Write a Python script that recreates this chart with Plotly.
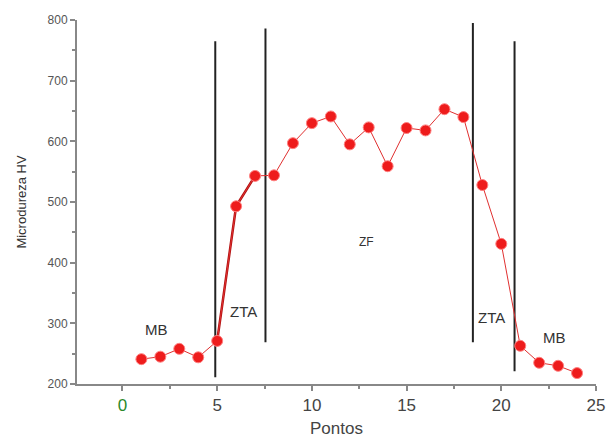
import plotly.graph_objects as go

# Data
pontos = list(range(1, 25))
microdureza = [241, 245, 258, 244, 271, 493, 543, 544, 597, 630, 641, 595,
               623, 559, 622, 618, 653, 640, 528, 431, 263, 235, 230, 218]

# Zone boundary lines (x, y_start, y_end)
linhas_x = [4.9, 7.55, 18.5, 20.7]
linhas_y0 = [211, 269, 269, 221]
linhas_y1 = [765, 786, 795, 765]

# Zone labels
rotulos = ["MB", "ZTA", "ZF", "ZTA", "MB"]
rotulos_x = [1.8, 6.4, 12.9, 19.5, 22.8]
rotulos_y = [290, 319, 434, 309, 277]

x_ticks = [0, 5, 10, 15, 20, 25]
y_ticks = [200, 300, 400, 500, 600, 700, 800]

fig = go.Figure()

for x, y0, y1 in zip(linhas_x, linhas_y0, linhas_y1):
    fig.add_trace(go.Scatter(x=[x, x], y=[y0, y1], mode="lines",
                             line=dict(color="#222222", width=2),
                             showlegend=False, hoverinfo="skip"))

# hand-drawn darker segment
fig.add_trace(go.Scatter(x=pontos[4:7], y=microdureza[4:7], mode="lines",
                         line=dict(color="#b01010", width=2.5),
                         showlegend=False, hoverinfo="skip"))

fig.add_trace(go.Scatter(x=pontos, y=microdureza, mode="lines+markers",
                         line=dict(color="#e03030", width=1),
                         marker=dict(color="#ee1c1c", size=11,
                                     line=dict(color="#ff8080", width=1)),
                         showlegend=False))

for t, x, y in zip(rotulos, rotulos_x, rotulos_y):
    fig.add_annotation(x=x, y=y, text=t, showarrow=False,
                       font=dict(family="Arial, Liberation Sans", size=15 if t != "ZF" else 12,
                                 color="#333333"))

ticktext = ["<span style='color:#2a8a2a'>0</span>"] + [str(v) for v in x_ticks[1:]]

fig.update_layout(
    width=606, height=439,
    margin=dict(l=77, r=10, t=20, b=55),
    plot_bgcolor="white", paper_bgcolor="white",
    font=dict(family="Arial, Liberation Sans", color="#444444"),
    xaxis=dict(range=[-2.4, 25], tickvals=x_ticks, ticktext=ticktext,
               automargin=False,
               showgrid=False, zeroline=False, showline=True,
               linecolor="#888888", linewidth=2, ticks="outside",
               tickcolor="#888888", ticklen=5, tickwidth=1.5,
               tickfont=dict(size=17, color="#444444"),
               minor=dict(tickvals=[2.5, 7.5, 12.5, 17.5, 22.5], ticks="outside",
                          ticklen=3, tickcolor="#888888"),
               title=dict(text="Pontos", font=dict(size=17, color="#444444"),
                          standoff=8)),
    yaxis=dict(range=[200, 800], tickvals=y_ticks,
               automargin=False,
               showgrid=False, zeroline=False, showline=True,
               linecolor="#888888", linewidth=2, ticks="outside",
               tickcolor="#888888", ticklen=5, tickwidth=1.5,
               tickfont=dict(size=12, color="#555555"),
               minor=dict(dtick=50, ticks="outside", ticklen=3, tickcolor="#888888"),
               title=dict(text="Microdureza HV", font=dict(size=13, color="#333333"),
                          standoff=18)),
)

fig.write_html("out.html")
